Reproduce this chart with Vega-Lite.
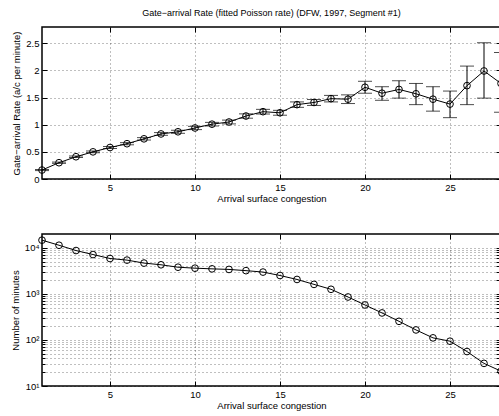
{
  "$schema": "https://vega.github.io/schema/vega-lite/v6.json",
  "padding": {"left": 9, "top": 7, "right": 0, "bottom": 0},
  "background": "white",
  "spacing": 28,
  "config": {
    "font": "Liberation Sans",
    "view": {"stroke": "black", "strokeWidth": 1.5},
    "axis": {
      "domain": false,
      "tickColor": "black",
      "tickSize": -5,
      "labelFont": "Liberation Sans",
      "labelFontSize": 9.5,
      "labelColor": "black",
      "labelPadding": 8,
      "titleFont": "Liberation Sans",
      "titleFontSize": 9.5,
      "titleFontWeight": "normal",
      "titleColor": "black",
      "gridDash": [1, 3],
      "gridColor": "black",
      "gridOpacity": 0.5,
      "labelOverlap": false
    },
    "title": {"font": "Liberation Sans", "fontSize": 9, "fontWeight": "normal", "color": "black"}
  },
  "datasets": {
    "d": [
      {"x": 1, "rate": 0.165, "lo": 0.155, "hi": 0.175, "minutes": 14700},
      {"x": 2, "rate": 0.30, "lo": 0.288, "hi": 0.312, "minutes": 11400},
      {"x": 3, "rate": 0.41, "lo": 0.396, "hi": 0.424, "minutes": 8750},
      {"x": 4, "rate": 0.50, "lo": 0.484, "hi": 0.516, "minutes": 7160},
      {"x": 5, "rate": 0.58, "lo": 0.562, "hi": 0.598, "minutes": 5870},
      {"x": 6, "rate": 0.65, "lo": 0.63, "hi": 0.67, "minutes": 5420},
      {"x": 7, "rate": 0.74, "lo": 0.718, "hi": 0.762, "minutes": 4670},
      {"x": 8, "rate": 0.83, "lo": 0.805, "hi": 0.855, "minutes": 4290},
      {"x": 9, "rate": 0.87, "lo": 0.842, "hi": 0.898, "minutes": 3800},
      {"x": 10, "rate": 0.94, "lo": 0.91, "hi": 0.97, "minutes": 3620},
      {"x": 11, "rate": 1.01, "lo": 0.977, "hi": 1.043, "minutes": 3500},
      {"x": 12, "rate": 1.05, "lo": 1.015, "hi": 1.085, "minutes": 3400},
      {"x": 13, "rate": 1.16, "lo": 1.12, "hi": 1.20, "minutes": 3200},
      {"x": 14, "rate": 1.24, "lo": 1.197, "hi": 1.283, "minutes": 2980},
      {"x": 15, "rate": 1.22, "lo": 1.175, "hi": 1.265, "minutes": 2510},
      {"x": 16, "rate": 1.37, "lo": 1.32, "hi": 1.42, "minutes": 2060},
      {"x": 17, "rate": 1.41, "lo": 1.355, "hi": 1.465, "minutes": 1610},
      {"x": 18, "rate": 1.48, "lo": 1.42, "hi": 1.54, "minutes": 1260},
      {"x": 19, "rate": 1.47, "lo": 1.39, "hi": 1.55, "minutes": 857},
      {"x": 20, "rate": 1.69, "lo": 1.58, "hi": 1.80, "minutes": 575},
      {"x": 21, "rate": 1.58, "lo": 1.45, "hi": 1.70, "minutes": 386},
      {"x": 22, "rate": 1.65, "lo": 1.49, "hi": 1.81, "minutes": 254},
      {"x": 23, "rate": 1.57, "lo": 1.37, "hi": 1.76, "minutes": 165},
      {"x": 24, "rate": 1.47, "lo": 1.25, "hi": 1.70, "minutes": 111},
      {"x": 25, "rate": 1.38, "lo": 1.13, "hi": 1.62, "minutes": 94},
      {"x": 26, "rate": 1.72, "lo": 1.37, "hi": 2.08, "minutes": 56},
      {"x": 27, "rate": 1.99, "lo": 1.49, "hi": 2.51, "minutes": 31},
      {"x": 28, "rate": 1.76, "lo": 1.23, "hi": 2.33, "minutes": 21}
    ]
  },
  "vconcat": [
    {
      "width": 459,
      "height": 152,
      "title": {"text": "Gate−arrival Rate (fitted Poisson rate) (DFW, 1997, Segment #1)", "anchor": "middle", "offset": 9},
      "data": {"name": "d"},
      "resolve": {"axis": {"x": "independent", "y": "independent"}},
      "layer": [
        {
          "mark": {"type": "rule", "color": "black", "strokeWidth": 1},
          "encoding": {
            "x": {"field": "x", "type": "quantitative", "scale": {"domain": [1, 28], "nice": false, "zero": false},
                  "axis": {"orient": "bottom", "values": [5, 10, 15, 20, 25], "title": "Arrival surface congestion", "titlePadding": 2, "grid": true}},
            "y": {"field": "lo", "type": "quantitative", "scale": {"domain": [0, 2.8], "nice": false, "zero": false},
                  "axis": {"orient": "left", "values": [0, 0.5, 1, 1.5, 2, 2.5], "format": "~g", "title": "Gate−arrival Rate (a/c per minute)", "titlePadding": 4, "grid": true}},
            "y2": {"field": "hi"}
          }
        },
        {
          "mark": {"type": "tick", "color": "black", "orient": "horizontal", "size": 14, "thickness": 1},
          "encoding": {
            "x": {"field": "x", "type": "quantitative", "axis": null},
            "y": {"field": "lo", "type": "quantitative", "axis": null}
          }
        },
        {
          "mark": {"type": "tick", "color": "black", "orient": "horizontal", "size": 14, "thickness": 1},
          "encoding": {
            "x": {"field": "x", "type": "quantitative", "axis": null},
            "y": {"field": "hi", "type": "quantitative", "axis": null}
          }
        },
        {
          "mark": {"type": "line", "color": "black", "strokeWidth": 1},
          "encoding": {
            "x": {"field": "x", "type": "quantitative", "axis": null},
            "y": {"field": "rate", "type": "quantitative", "axis": null}
          }
        },
        {
          "mark": {"type": "point", "shape": "circle", "filled": false, "color": "black", "strokeWidth": 1, "size": 45, "opacity": 1},
          "encoding": {
            "x": {"field": "x", "type": "quantitative",
                  "axis": {"orient": "top", "values": [5, 10, 15, 20, 25], "labels": false, "title": null, "grid": false}},
            "y": {"field": "rate", "type": "quantitative",
                  "axis": {"orient": "right", "values": [0, 0.5, 1, 1.5, 2, 2.5], "labels": false, "title": null, "grid": false}}
          }
        }
      ]
    },
    {
      "width": 459,
      "height": 152,
      "data": {"name": "d"},
      "resolve": {"axis": {"x": "independent", "y": "independent"}},
      "layer": [
        {
          "mark": {"type": "line", "color": "black", "strokeWidth": 1},
          "encoding": {
            "x": {"field": "x", "type": "quantitative", "scale": {"domain": [1, 28], "nice": false, "zero": false},
                  "axis": {"orient": "bottom", "values": [5, 10, 15, 20, 25], "title": "Arrival surface congestion", "titlePadding": 2, "grid": true}},
            "y": {"field": "minutes", "type": "quantitative", "scale": {"type": "log", "domain": [10, 20000], "nice": false},
                  "axis": {"orient": "left",
                           "values": [10, 20, 30, 40, 50, 60, 70, 80, 90, 100, 200, 300, 400, 500, 600, 700, 800, 900, 1000, 2000, 3000, 4000, 5000, 6000, 7000, 8000, 9000, 10000],
                           "labelExpr": "datum.value == 10 ? '10¹' : datum.value == 100 ? '10²' : datum.value == 1000 ? '10³' : datum.value == 10000 ? '10⁴' : ''",
                           "tickSize": {"condition": {"test": "datum.value == 10 || datum.value == 100 || datum.value == 1000 || datum.value == 10000", "value": -5}, "value": -3},
                           "title": "Number of minutes", "titlePadding": 4, "grid": true}}
          }
        },
        {
          "mark": {"type": "point", "shape": "circle", "filled": false, "color": "black", "strokeWidth": 1, "size": 45, "opacity": 1},
          "encoding": {
            "x": {"field": "x", "type": "quantitative",
                  "axis": {"orient": "top", "values": [5, 10, 15, 20, 25], "labels": false, "title": null, "grid": false}},
            "y": {"field": "minutes", "type": "quantitative",
                  "axis": {"orient": "right", "values": [10, 20, 30, 40, 50, 60, 70, 80, 90, 100, 200, 300, 400, 500, 600, 700, 800, 900, 1000, 2000, 3000, 4000, 5000, 6000, 7000, 8000, 9000, 10000], "labels": false, "title": null, "grid": false}}
          }
        }
      ]
    }
  ]
}
